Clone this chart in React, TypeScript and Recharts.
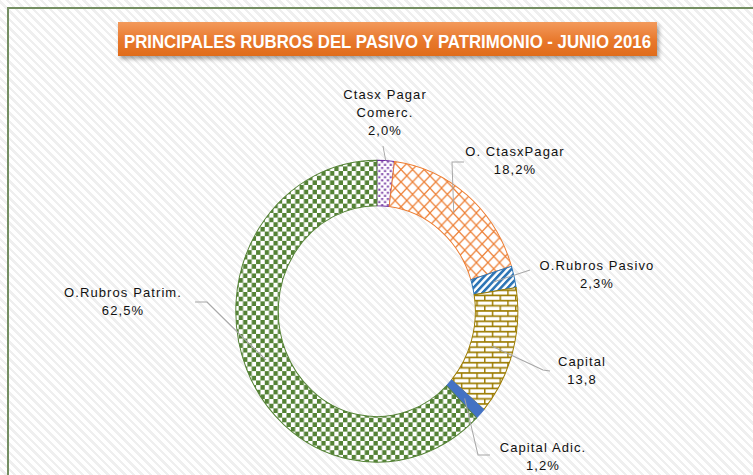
import React from 'react';
import { PieChart, Pie, Cell } from 'recharts';

// composición del pasivo y patrimonio, junio 2016 (%)
const rubros = ['Ctasx Pagar Comerc.', 'O. CtasxPagar', 'O.Rubros Pasivo', 'Capital', 'Capital Adic.', 'O.Rubros Patrim.'];
const nameLines = [['Ctasx Pagar', 'Comerc.'], ['O. CtasxPagar'], ['O.Rubros Pasivo'], ['Capital'], ['Capital Adic.'], ['O.Rubros Patrim.']];
const valores = [2.0, 18.2, 2.3, 13.8, 1.2, 62.5];
const valueLabels = ['2,0%', '18,2%', '2,3%', '13,8', '1,2%', '62,5%'];

const data = rubros.map((name, i) => ({ name, value: valores[i] }));

const fills = ['url(#pDots)', 'url(#pCross)', 'url(#pStripe)', 'url(#pBrick)', '#4472c4', 'url(#pCheck)'];
const strokes = ['#7030a0', '#ed7d31', '#2e75b6', '#9c7b00', '#4472c4', '#548235'];

const CX = 372;
const CY = 306;
const SX = 0.966;
const SY = 1.034;
const RADIAN = Math.PI / 180;

// label placement in page pixels
const labelLayout = [
  { x: 385, y: 95, from: 'outer', pts: [[383, 146]] },
  { x: 515, y: 152, from: 'mid', pts: [[452, 162], [464, 162]] },
  { x: 597, y: 265, from: 'mid', pts: [[530, 270]] },
  { x: 582, y: 362, from: 'mid', pts: [[543, 370], [550, 371]] },
  { x: 543, y: 447, from: 'mid', pts: [[478, 455], [490, 455]] },
  { x: 123, y: 293, from: 'mid', pts: [[207, 302], [195, 302]] },
];

const toChart = (px: number, py: number) => [CX + (px - CX) / SX, CY + (py - CY) / SY];

const renderLabel = (props: any) => {
  const { cx, cy, midAngle, innerRadius, outerRadius, index } = props;
  const lay = labelLayout[index];
  const r = lay.from === 'outer' ? outerRadius : (innerRadius + outerRadius) / 2;
  const sx = cx + r * Math.cos(-midAngle * RADIAN);
  const sy = cy + r * Math.sin(-midAngle * RADIAN);
  const pts = [[sx, sy], ...lay.pts.map(p => toChart(p[0], p[1]))];
  const [tx, ty] = toChart(lay.x, lay.y);
  const lines = [...nameLines[index], valueLabels[index]];
  return (
    <g key={`lbl-${index}`}>
      <polyline points={pts.map(p => p.join(',')).join(' ')} fill="none" stroke="#a6a6a6" strokeWidth={1} />
      <text
        transform={`translate(${tx},${ty}) scale(${1 / SX},${1 / SY})`}
        textAnchor="middle"
        fontFamily="'Liberation Sans', Arial, sans-serif"
        fontSize={13}
        letterSpacing={1.1}
        fill="#111"
      >
        {lines.map((t, i) => (
          <tspan key={i} x={0} y={i * 18} dominantBaseline="central">{t}</tspan>
        ))}
      </text>
    </g>
  );
};

const Patterns = () => (
  <svg width={0} height={0} style={{ position: 'absolute' }}>
    <defs>
      <pattern id="pDots" width={6} height={6} patternUnits="userSpaceOnUse">
        <rect width={6} height={6} fill="#fff" />
        <rect x={0.5} y={0.5} width={2} height={2} fill="#7030a0" />
        <rect x={3.5} y={3.5} width={2} height={2} fill="#7030a0" />
      </pattern>
      <pattern id="pCross" width={12} height={12} patternUnits="userSpaceOnUse">
        <rect width={12} height={12} fill="#fff" />
        <path d="M0,0 L12,12 M12,0 L0,12" stroke="#ed7d31" strokeWidth={1.2} />
      </pattern>
      <pattern id="pStripe" width={5} height={5} patternUnits="userSpaceOnUse" patternTransform="rotate(45)">
        <rect width={5} height={5} fill="#fff" />
        <rect width={2.6} height={5} fill="#2e75b6" />
      </pattern>
      <pattern id="pBrick" width={16} height={10} patternUnits="userSpaceOnUse">
        <rect width={16} height={10} fill="#fff" />
        <path d="M0,0.75 H16 M0,5.75 H16 M0.75,0 V5 M8.75,5 V10" stroke="#9c7b00" strokeWidth={1.5} />
      </pattern>
      <pattern id="pCheck" width={9} height={9} patternUnits="userSpaceOnUse">
        <rect width={9} height={9} fill="#fff" />
        <rect width={4.5} height={4.5} fill="#548235" />
        <rect x={4.5} y={4.5} width={4.5} height={4.5} fill="#548235" />
      </pattern>
    </defs>
  </svg>
);

export default function App() {
  return (
    <div
      style={{
        position: 'absolute',
        left: 0,
        top: 0,
        width: 753,
        height: 475,
        overflow: 'hidden',
        background: 'repeating-linear-gradient(45deg, #ffffff 0px, #ffffff 3.5px, #efefef 3.5px, #efefef 6px)',
      }}
    >
      <Patterns />
      <div style={{ position: 'absolute', left: 7, top: 7, width: 800, height: 520, border: '2px solid #748f62' }} />
      <div
        style={{
          position: 'absolute',
          left: 0,
          top: 0,
          width: 753,
          height: 475,
          transform: `scale(${SX}, ${SY})`,
          transformOrigin: `${CX}px ${CY}px`,
        }}
      >
        <PieChart width={753} height={475}>
          <Pie
            data={data}
            dataKey="value"
            nameKey="name"
            cx={CX}
            cy={CY}
            innerRadius={102}
            outerRadius={146}
            startAngle={90}
            endAngle={-270}
            label={renderLabel}
            labelLine={false}
            isAnimationActive={false}
          >
            {data.map((d, i) => (
              <Cell key={d.name} fill={fills[i]} stroke={strokes[i]} strokeWidth={1} />
            ))}
          </Pie>
        </PieChart>
      </div>
      <div
        style={{
          position: 'absolute',
          left: 118,
          top: 22,
          width: 539,
          height: 34,
          background: 'linear-gradient(#f39a5c, #e8782c 55%, #e06c1a)',
          boxShadow: '2px 3px 4px rgba(0,0,0,0.35)',
        }}
      >
        <svg width={539} height={34} style={{ overflow: 'visible' }}>
          <text
            x={269.5}
            y={26}
            textAnchor="middle"
            fontFamily="'Liberation Sans', Arial, sans-serif"
            fontWeight="bold"
            fontSize={17}
            fill="#ffffff"
            textLength={527}
            lengthAdjust="spacingAndGlyphs"
            transform="translate(269.5,26) scale(1,1.12) translate(-269.5,-26)"
          >
            PRINCIPALES RUBROS DEL PASIVO Y PATRIMONIO - JUNIO 2016
          </text>
        </svg>
      </div>
    </div>
  );
}
